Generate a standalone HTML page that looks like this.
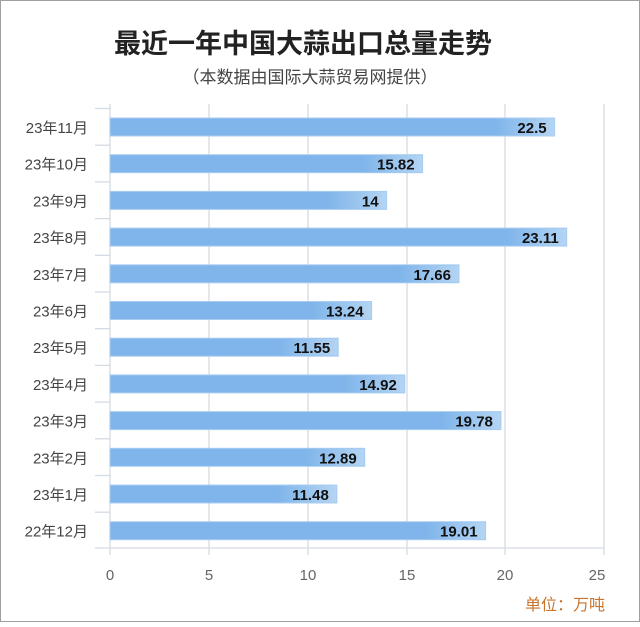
<!DOCTYPE html><html><head><meta charset="utf-8"><style>
body{margin:0;background:#fff}
svg text{font-family:"Liberation Sans","Noto Sans CJK SC",sans-serif}
</style></head><body>
<svg width="640" height="622" xmlns="http://www.w3.org/2000/svg">
<defs><linearGradient id="g" x1="0" x2="1"><stop offset="0" stop-color="#7fb5ea"/><stop offset="1" stop-color="#b4d4f3"/></linearGradient></defs>
<rect x="0.5" y="0.5" width="639" height="621" fill="#fff" stroke="#a0a0a0"/>
<text x="303" y="53" text-anchor="middle" font-size="27" font-weight="bold" fill="#222">最近一年中国大蒜出口总量走势</text>
<text x="310" y="83" text-anchor="middle" font-size="17" fill="#444">（本数据由国际大蒜贸易网提供）</text>
<g stroke="#d5dbe3" stroke-width="1.3">
<line x1="209" y1="104" x2="209" y2="555"/><line x1="308" y1="104" x2="308" y2="555"/><line x1="407" y1="104" x2="407" y2="555"/><line x1="505" y1="104" x2="505" y2="555"/><line x1="604" y1="104" x2="604" y2="555"/>
<line x1="110" y1="104" x2="110" y2="555"/><line x1="95" y1="548" x2="604" y2="548"/>
<line x1="95" x2="110" y1="108.5" y2="108.5"/><line x1="95" x2="110" y1="145.2" y2="145.2"/><line x1="95" x2="110" y1="181.9" y2="181.9"/><line x1="95" x2="110" y1="218.6" y2="218.6"/><line x1="95" x2="110" y1="255.3" y2="255.3"/><line x1="95" x2="110" y1="292" y2="292"/><line x1="95" x2="110" y1="328.7" y2="328.7"/><line x1="95" x2="110" y1="365.4" y2="365.4"/><line x1="95" x2="110" y1="402.1" y2="402.1"/><line x1="95" x2="110" y1="438.8" y2="438.8"/><line x1="95" x2="110" y1="475.5" y2="475.5"/><line x1="95" x2="110" y1="512.2" y2="512.2"/>
</g>
<g fill="#7fb5ea" stroke="#a9cdf2">
<rect x="110" y="118" width="444.6" height="18"/>
<rect x="110" y="154.7" width="312.6" height="18"/>
<rect x="110" y="191.4" width="276.6" height="18"/>
<rect x="110" y="228.1" width="456.7" height="18"/>
<rect x="110" y="264.8" width="349" height="18"/>
<rect x="110" y="301.5" width="261.6" height="18"/>
<rect x="110" y="338.2" width="228.2" height="18"/>
<rect x="110" y="374.9" width="294.8" height="18"/>
<rect x="110" y="411.6" width="390.9" height="18"/>
<rect x="110" y="448.3" width="254.7" height="18"/>
<rect x="110" y="485" width="226.8" height="18"/>
<rect x="110" y="521.7" width="375.6" height="18"/>
</g>
<g fill="url(#g)">
<rect x="494.6" y="118.5" width="59.5" height="17"/>
<rect x="362.6" y="155.2" width="59.5" height="17"/>
<rect x="326.6" y="191.9" width="59.5" height="17"/>
<rect x="506.7" y="228.6" width="59.5" height="17"/>
<rect x="399" y="265.3" width="59.5" height="17"/>
<rect x="311.6" y="302" width="59.5" height="17"/>
<rect x="278.2" y="338.7" width="59.5" height="17"/>
<rect x="344.8" y="375.4" width="59.5" height="17"/>
<rect x="440.9" y="412.1" width="59.5" height="17"/>
<rect x="304.7" y="448.8" width="59.5" height="17"/>
<rect x="276.8" y="485.5" width="59.5" height="17"/>
<rect x="425.6" y="522.2" width="59.5" height="17"/>
</g>
<g font-size="15" font-weight="bold" fill="#111" text-anchor="end">
<text x="546.6" y="133">22.5</text>
<text x="414.6" y="169.7">15.82</text>
<text x="378.6" y="206.4">14</text>
<text x="558.7" y="243.1">23.11</text>
<text x="451" y="279.8">17.66</text>
<text x="363.6" y="316.5">13.24</text>
<text x="330.2" y="353.2">11.55</text>
<text x="396.8" y="389.9">14.92</text>
<text x="492.9" y="426.6">19.78</text>
<text x="356.7" y="463.3">12.89</text>
<text x="328.8" y="500">11.48</text>
<text x="477.6" y="536.7">19.01</text>
</g>
<g font-size="15" fill="#444" text-anchor="end">
<text x="88" y="133">23年11月</text>
<text x="88" y="169.7">23年10月</text>
<text x="88" y="206.4">23年9月</text>
<text x="88" y="243.1">23年8月</text>
<text x="88" y="279.8">23年7月</text>
<text x="88" y="316.5">23年6月</text>
<text x="88" y="353.2">23年5月</text>
<text x="88" y="389.9">23年4月</text>
<text x="88" y="426.6">23年3月</text>
<text x="88" y="463.3">23年2月</text>
<text x="88" y="500">23年1月</text>
<text x="88" y="536.7">22年12月</text>
</g>
<g font-size="15" fill="#666" text-anchor="middle">
<text x="110" y="580">0</text><text x="209" y="580">5</text><text x="308" y="580">10</text><text x="407" y="580">15</text><text x="505" y="580">20</text><text x="597" y="580">25</text>
</g>
<text x="605" y="610" text-anchor="end" font-size="16" fill="#c8742e">单位：万吨</text>
</svg></body></html>
